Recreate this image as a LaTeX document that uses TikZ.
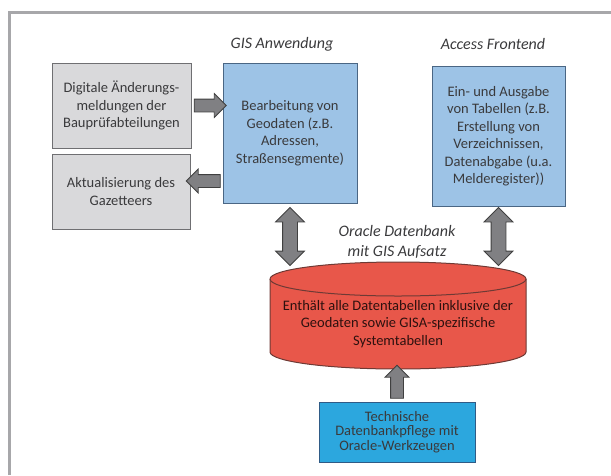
\documentclass[tikz,border=0pt]{standalone}
\usepackage{fontspec}
\setmainfont{Carlito}
\usetikzlibrary{shapes.arrows,calc,positioning}

\definecolor{framegray}{HTML}{A7A7AA}
\definecolor{boxgray}{HTML}{D9D9DB}
\definecolor{linegray}{HTML}{6F6F72}
\definecolor{boxblue}{HTML}{9DC3E6}
\definecolor{lineblue}{HTML}{4A6684}
\definecolor{dbred}{HTML}{E8574A}
\definecolor{linered}{HTML}{6E3A35}
\definecolor{techblue}{HTML}{2CA7DE}
\definecolor{linetech}{HTML}{2F5B86}
\definecolor{arrowgray}{HTML}{808083}
\definecolor{textgray}{HTML}{3A3A3C}

\tikzset{
  infobox/.style={draw=linegray, fill=boxgray, line width=1pt, align=center,
    inner sep=0pt, text=textgray},
  appbox/.style={infobox, draw=lineblue, fill=boxblue},
  techbox/.style={infobox, draw=linetech, fill=techblue,
    font=\fontsize{14.5}{14.5}\selectfont},
  apptitle/.style={font=\fontsize{16}{20}\selectfont\itshape, text=textgray},
  fatarrow/.style={single arrow, draw=black!75, fill=arrowgray, line width=0.8pt,
    inner sep=6pt, single arrow head extend=5.5pt, minimum height=#1},
  fatdouble/.style={double arrow, draw=black!75, fill=arrowgray, line width=0.8pt,
    inner sep=7pt, double arrow head extend=7pt, minimum height=#1, rotate=90}
}

\begin{document}
\begin{tikzpicture}[x=1pt,y=-1pt,font=\fontsize{14.5}{17.5}\selectfont]

  \useasboundingbox (0,0) rectangle (611,475);

  % frame
  \draw[framegray, line width=3pt] (9.5,475) -- (9.5,12.5) -- (611,12.5);

  % boxes
  \node[infobox, minimum width=139, minimum height=85] (dig) at (121.5,105.5)
    {Digitale Änderungs-\\meldungen der\\Bauprüfabteilungen};
  \node[infobox, minimum width=138, minimum height=75] (akt) at (121,191.5)
    {Aktualisierung des\\Gazetteers};
  \node[appbox, minimum width=134, minimum height=140] (gis) at (290,133)
    {Bearbeitung von\\Geodaten (z.B.\\Adressen,\\Straßensegmente)};
  \node[appbox, minimum width=133, minimum height=140] (acc) at (498.5,136)
    {Ein- und Ausgabe\\von Tabellen (z.B.\\Erstellung von\\Verzeichnissen,\\Datenabgabe (u.a.\\Melderegister))};
  \node[techbox, minimum width=156, minimum height=60] (tech) at (397,432)
    {Technische\\Datenbankpflege mit\\Oracle-Werkzeugen};

  % titles
  \node[apptitle] (gistitle) at (282,44) {GIS Anwendung};
  \node[apptitle] (acctitle) at (493,44) {Access Frontend};
  \node[apptitle, align=center, font=\fontsize{16}{20}\selectfont\itshape] (dbtitle) at (397,242)
    {Oracle Datenbank\\mit GIS Aufsatz};

  % database cylinder
  \draw[draw=linered, fill=dbred, line width=1pt]
    (270,279) -- (270,352) arc[start angle=180, end angle=0, x radius=128, y radius=17]
    -- (526,279) arc[start angle=0, end angle=-180, x radius=128, y radius=17] -- cycle;
  \draw[draw=linered, line width=1pt]
    (270,279) arc[start angle=180, end angle=0, x radius=128, y radius=17];
  \node[align=center, text=black!80!dbred] (db) at (398,324)
    {Enthält alle Datentabellen inklusive der\\Geodaten sowie GISA-spezifische\\Systemtabellen};

  % arrows
  \node[fatarrow=32] (a1) at ($(dig.east)!0.5!(dig.east -| gis.west)$) {};
  \node[fatarrow=34, rotate=180] (a2) at ($(akt.east)!0.5!(akt.east -| gis.west)+(0,-10.5)$) {};
  \node[fatdouble=58] (a3) at ($(gis.south)+(0,33)$) {};
  \node[fatdouble=58] (a4) at ($(acc.south)+(0,30)$) {};
  \node[fatarrow=33, rotate=90] (a5) at ($(tech.north)+(0,-16.5)$) {};

\end{tikzpicture}
\end{document}
